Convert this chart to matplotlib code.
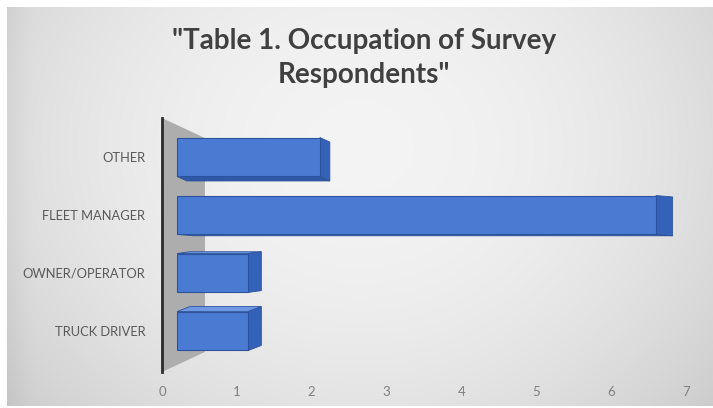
import numpy as np
import matplotlib
matplotlib.use("Agg")
import matplotlib.pyplot as plt
from matplotlib.patches import Polygon
from matplotlib.transforms import IdentityTransform

# ---- data ----
categories = ["TRUCK DRIVER", "OWNER/OPERATOR", "FLEET MANAGER", "OTHER"]
values = [1, 1, 6.7, 2]
xticks = [0, 1, 2, 3, 4, 5, 6, 7]
title = "\"Table 1. Occupation of Survey\nRespondents\""

W, H = 713, 408
DPI = 100
fig = plt.figure(figsize=(W / DPI, H / DPI), dpi=DPI, facecolor="white")

# background gradient panel
bg = fig.add_axes([7 / W, 2 / H, 706 / W, 399 / H])
bg.set_axis_off()
yy, xx = np.mgrid[0:1:200j, 0:1:400j]
r = np.sqrt(((xx - 0.5) / 0.65) ** 2 + ((yy - 0.35) / 1.0) ** 2)
shade = 0.955 - 0.15 * np.clip(r, 0, 1.2) ** 2
shade[:, :15] -= np.linspace(0.03, 0, 15)[None, :]
img = np.dstack([shade, shade, shade])
bg.imshow(np.clip(img, 0, 1), aspect="auto", extent=[0, 1, 0, 1], interpolation="bicubic")

# main axes
ax = fig.add_axes([162 / W, (H - 372) / H, 524 / W, 254 / H])
ax.set_facecolor("none")
ax.set_xlim(0, 7)
ax.set_ylim(-0.707, 3.672)
for s in ["top", "right", "bottom"]:
    ax.spines[s].set_visible(False)
ax.spines["left"].set_color("#2b2b2b")
ax.spines["left"].set_linewidth(2)
ax.spines["left"].set_zorder(6)

# side wall (3D look)
wall = Polygon([(0, 1.0), (0.082, 0.921), (0.082, 0.079), (0, 0.0)],
               closed=True, transform=ax.transAxes, facecolor="#adadad",
               edgecolor="none", zorder=1)
ax.add_patch(wall)

ax.set_xticks(xticks)
ax.set_xticklabels([str(t) for t in xticks], fontsize=9.5, color="#7f7f7f", family="Lato")
ax.tick_params(axis="x", length=0, pad=10)
ypos = np.arange(len(categories))
ax.set_yticks(ypos)
ax.set_yticklabels(categories, fontsize=9.3, color="#595959", family="Lato")
ax.tick_params(axis="y", length=0, pad=12)

fig.canvas.draw()

bar_h = 0.67
front_c = "#4a7bd3"
side_c = "#3462b8"
top_c = "#6d98e2"
bot_c = "#2f58a6"
edge_c = "#2d529c"
x_shift = 15       # px offset of bar fronts from axis (3D depth)
persp = 0.955      # perspective compression of bar lengths
vp_y = H - 240
(ax0, _) = ax.transData.transform((0, 0))
for y, v in zip(ypos, values):
    (xa, yb) = ax.transData.transform((0, y - bar_h / 2))
    (xe, yt) = ax.transData.transform((v, y + bar_h / 2))
    x0 = xa + x_shift
    x1 = xa + x_shift + (xe - xa) * persp
    yc = (yb + yt) / 2
    dx = 7 + 0.02 * (x1 - x0) if yc > vp_y else 12 + 0.012 * (x1 - x0)
    dy = (vp_y - yc) * 0.055
    if dy > 0:
        tf = Polygon([(x0, yt), (x0 + dx, yt + dy), (x1 + dx, yt + dy), (x1, yt)],
                     closed=True, transform=IdentityTransform(), facecolor=top_c,
                     edgecolor=edge_c, linewidth=0.6, zorder=3)
    else:
        tf = Polygon([(x0, yb), (x0 + dx, yb + dy), (x1 + dx, yb + dy), (x1, yb)],
                     closed=True, transform=IdentityTransform(), facecolor=bot_c,
                     edgecolor=edge_c, linewidth=0.6, zorder=3)
    fig.add_artist(tf)
    sf = Polygon([(x1, yt), (x1 + dx, yt + dy), (x1 + dx, yb + dy), (x1, yb)],
                 closed=True, transform=IdentityTransform(), facecolor=side_c,
                 edgecolor=edge_c, linewidth=0.6, zorder=3)
    fig.add_artist(sf)
    ff = Polygon([(x0, yb), (x0, yt), (x1, yt), (x1, yb)],
                 closed=True, transform=IdentityTransform(), facecolor=front_c,
                 edgecolor=edge_c, linewidth=0.8, zorder=4)
    fig.add_artist(ff)

fig.text(364 / W, 1 - 58 / H, title, ha="center", va="center", fontsize=20,
         fontweight="bold", color="#404040", family="Lato", linespacing=1.38)

fig.savefig("out.png", dpi=DPI, facecolor="white")
